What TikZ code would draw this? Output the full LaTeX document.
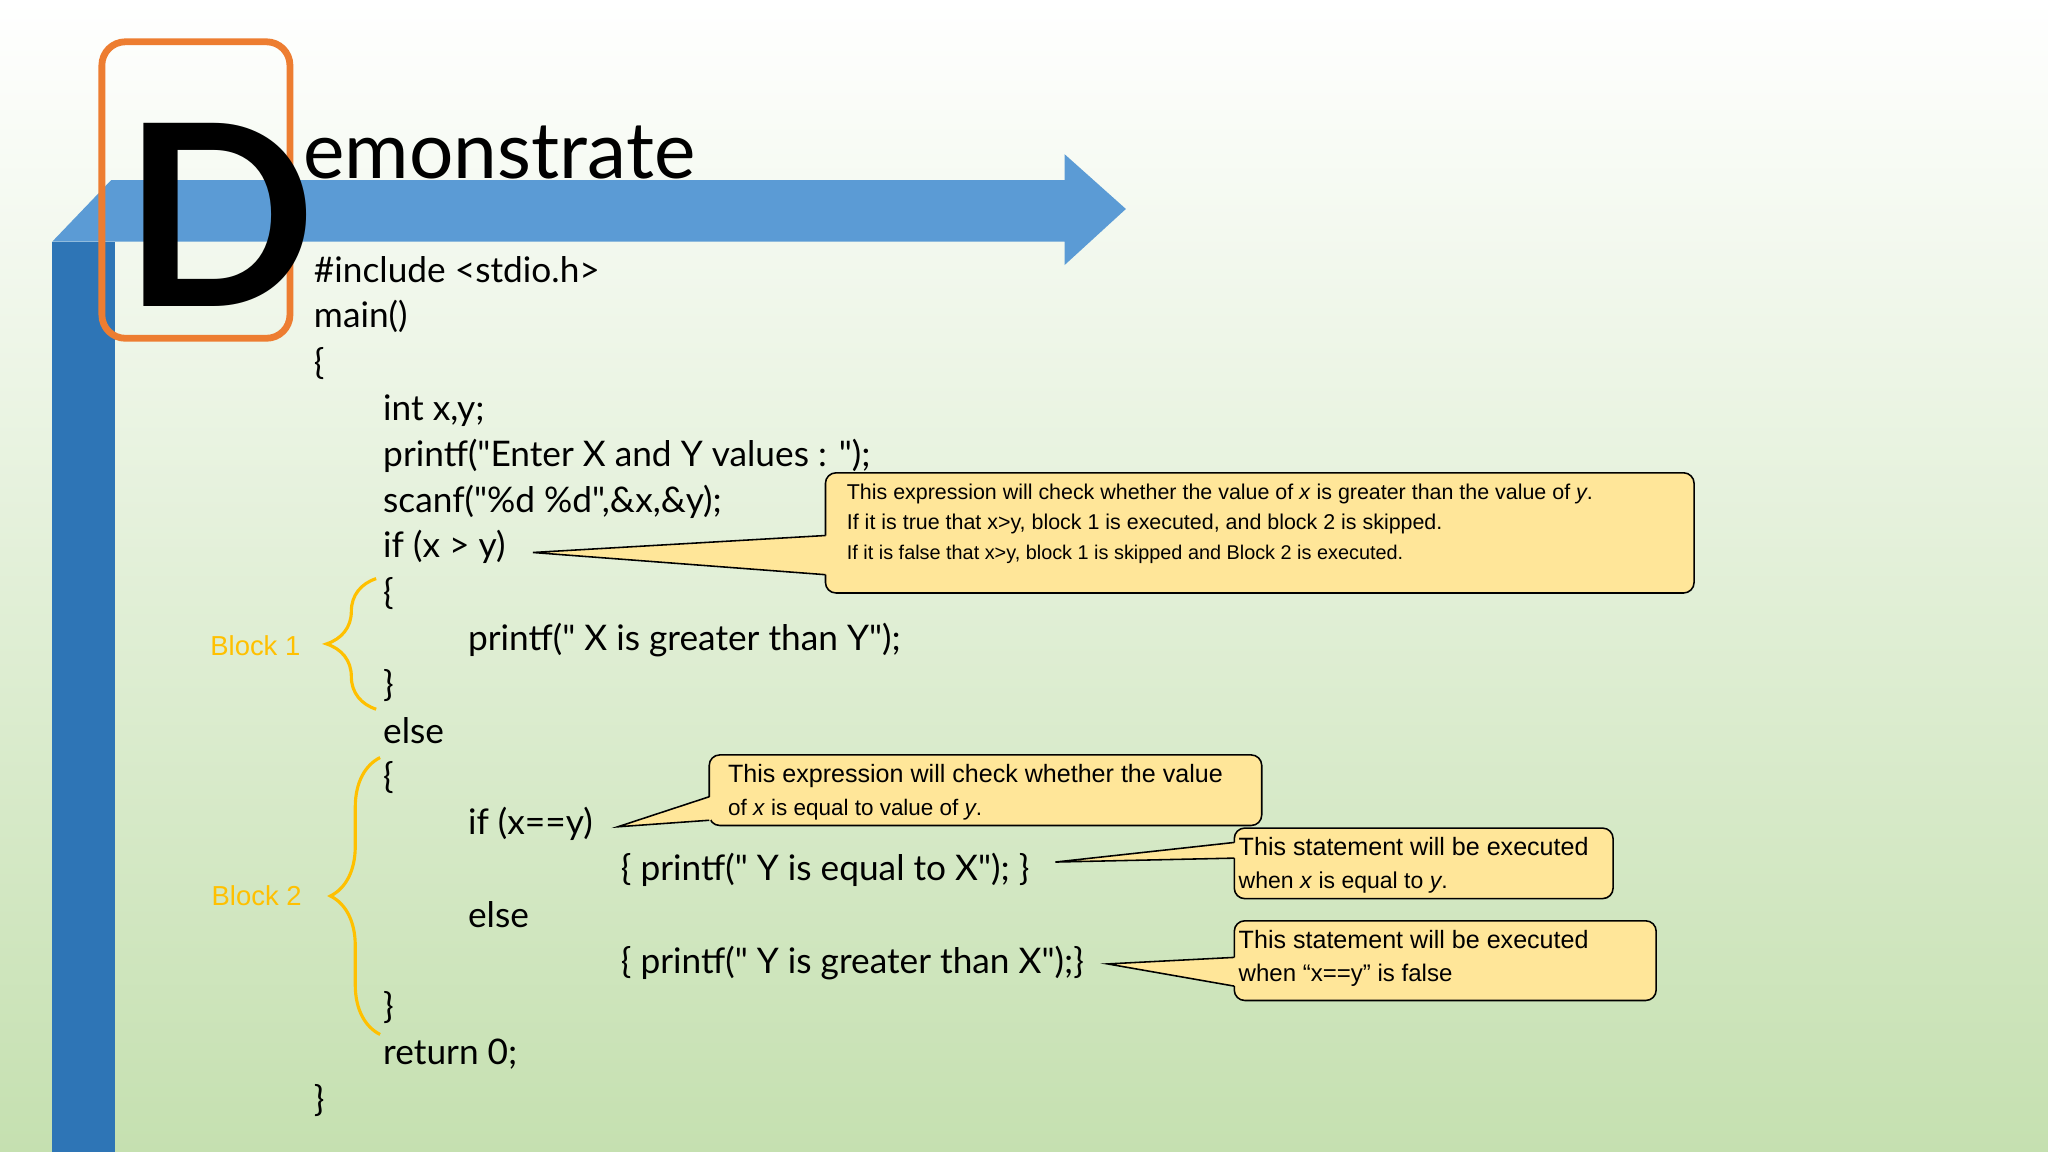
\documentclass[tikz,border=0pt]{standalone}
\usepackage{fontspec}
\setmainfont{Lato}[Ligatures=TeXOff]
\newfontfamily\callfont{Liberation Sans}
\usetikzlibrary{decorations.pathreplacing}
\definecolor{bgg}{RGB}{197,224,176}
\definecolor{lblue}{RGB}{91,155,213}
\definecolor{dblue}{RGB}{46,117,182}
\definecolor{orng}{RGB}{237,125,49}
\definecolor{gold}{RGB}{255,192,0}
\definecolor{callfill}{RGB}{255,230,153}
\newcommand{\dq}{\char34\relax}
\tikzset{
 code/.style={anchor=base west,inner sep=0pt,font=\fontsize{13.5}{16}\selectfont},
 calltext/.style={anchor=north west,inner sep=0pt,align=left,font=\callfont\fontsize{8.2}{11.6}\selectfont},
 callbox/.style={draw=black,fill=callfill,rounded corners=4pt,line width=0.6pt},
 brc/.style={draw=gold,line width=1.2pt,decorate,decoration={brace,amplitude=19pt,aspect=0.5}},
 blk/.style={text=gold,font=\callfont\fontsize{10.5}{12}\selectfont,anchor=east}
}
\newcommand{\callout}[8]{% name, x1,y1,x2,y2, base y top, base y bot, tip
 \draw[callbox] (#2,#3) rectangle (#4,#5);
 \fill[callfill] (#2+1.5,#6) -- (#8) -- (#2+1.5,#7) -- cycle;
 \draw[line width=0.6pt] (#2,#6) -- (#8) -- (#2,#7);
}
\begin{document}
\begin{tikzpicture}[x=0.5pt,y=-0.5pt]
\useasboundingbox (0,0) rectangle (1568,882);
\shade[top color=white,bottom color=bgg] (0,0) rectangle (1568,882);
% blue arrow
\fill[dblue] (40,185) rectangle (88,882);
\fill[lblue] (40,185) -- (85,138) -- (815,138) -- (815,118) -- (862,160) -- (815,203) -- (815,185) -- cycle;
% orange box and title
\draw[orng,line width=2.6pt,rounded corners=9pt] (78,32) rectangle (222,259);
\node[anchor=base west,inner sep=0pt,font=\bfseries\fontsize{97}{100}\selectfont] (D) at (94,235) {D};
\node[anchor=base west,inner sep=0pt,font=\fontsize{30}{32}\selectfont] (title) at (232,137) {emonstrate};
% code
\node[code] (l1) at (240,216) {\#include <stdio.h>};
\node[code] (l2) at (240,251) {main()};
\node[code] (l3) at (240,287) {\{};
\node[code] (l4) at (293,322) {int x,y;};
\node[code] (l5) at (293,357) {printf(\dq Enter X and Y values : \dq);};
\node[code] (l6) at (293,392) {scanf(\dq\%d \%d\dq,\&x,\&y);};
\node[code] (l7) at (293,427) {if (x > y)};
\node[code] (l8) at (293,463) {\{};
\node[code] (l9) at (358,498) {printf(\dq{} X is greater than Y\dq);};
\node[code] (l10) at (293,533) {\}};
\node[code] (l11) at (293,569) {else};
\node[code] (l12) at (293,604) {\{};
\node[code] (l13) at (358,639) {if (x==y)};
\node[code] (l14) at (475,674) {\{ printf(\dq{} Y is equal to X\dq); \}};
\node[code] (l15) at (358,710) {else};
\node[code] (l16) at (475,745) {\{ printf(\dq{} Y is greater than X\dq);\}};
\node[code] (l17) at (293,780) {\}};
\node[code] (l18) at (293,815) {return 0;};
\node[code] (l19) at (240,851) {\}};
% braces
\coordinate (b1a) at (288,543); \coordinate (b1b) at (288,443);
\draw[brc] (b1a) -- (b1b);
\node[blk] (blk1) at (237,494) {Block 1};
\coordinate (b2a) at (291,792); \coordinate (b2b) at (291,580);
\draw[brc] (b2a) -- (b2b);
\node[blk] (blk2) at (238,686) {Block 2};
% callouts
\coordinate (t1) at (408,423);
\callout{c1}{632}{362}{1297}{454}{410}{440}{t1}
\node[calltext] (c1t) at (648,370) {This expression will check whether the value of \textit{x} is greater than the value of \textit{y}.\\
If it is true that x>y, block 1 is executed, and block 2 is skipped.\\
{\fontsize{7.6}{10}\selectfont If it is false that x>y, block 1 is skipped and Block 2 is executed.}};
\coordinate (t2) at (473,633);
\callout{c2}{543}{578}{966}{632}{610}{628}{t2}
\node[calltext,font=\callfont\fontsize{9.6}{12.4}\selectfont] (c2t) at (557,585) {This expression will check whether the value\\
{\fontsize{8.6}{10}\selectfont of \textit{x} is equal to value of \textit{y}.}};
\coordinate (t3) at (808,660);
\callout{c3}{945}{634}{1235}{688}{645}{657}{t3}
\node[calltext,font=\callfont\fontsize{9.6}{12.4}\selectfont] (c3t) at (948,641) {This statement will be executed\\
{\fontsize{8.8}{10}\selectfont when \textit{x} is equal to \textit{y}.}};
\coordinate (t4) at (848,738);
\callout{c4}{945}{705}{1268}{766}{733}{755}{t4}
\node[calltext,font=\callfont\fontsize{9.6}{12.4}\selectfont] (c4t) at (948,712) {This statement will be executed\\
{\fontsize{9.2}{10}\selectfont when “x==y” is false}};
\end{tikzpicture}
\end{document}
